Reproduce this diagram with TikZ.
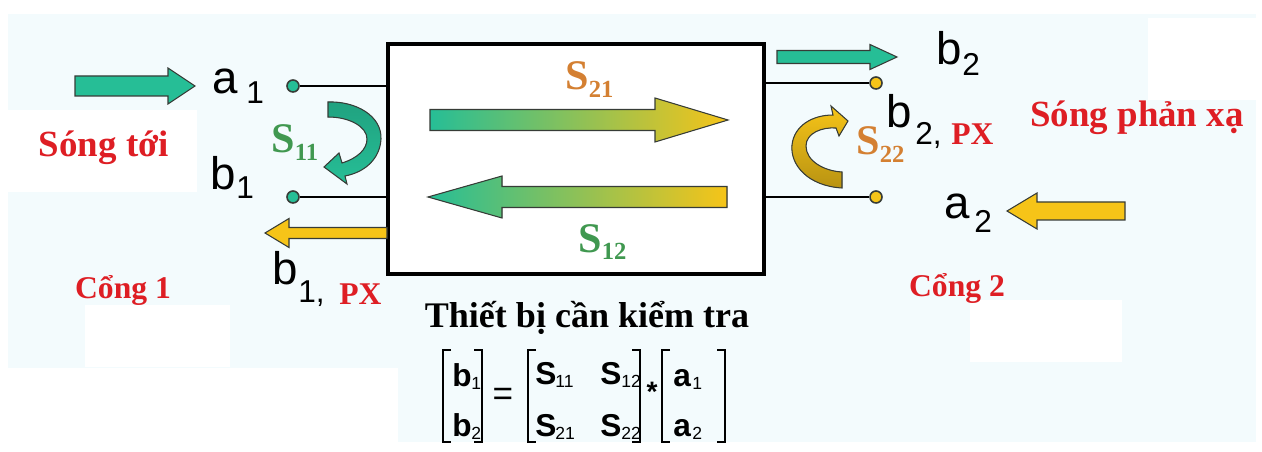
\documentclass[tikz,border=0pt]{standalone}
\usepackage{fontspec}
\setmainfont{Liberation Serif}
\setsansfont{Liberation Sans}
\definecolor{bgcyan}{RGB}{243,251,253}
\definecolor{wavegreen}{RGB}{38,190,150}
\definecolor{waveyellow}{RGB}{246,196,24}
\definecolor{labred}{RGB}{222,30,36}
\definecolor{sorange}{RGB}{212,128,50}
\definecolor{sgreen}{RGB}{64,152,80}
\definecolor{rim}{RGB}{55,60,55}

% block arrow: style, tail x, tip x, head-base x, axis y, shaft half-width, head half-width
\newcommand\blockarrow[7]{%
  \filldraw[#1] (#2,#5-#6) -- (#4,#5-#6) -- (#4,#5-#7) -- (#3,#5)
    -- (#4,#5+#7) -- (#4,#5+#6) -- (#2,#5+#6) -- cycle;}

\begin{document}
\begin{tikzpicture}[x=0.02cm,y=-0.02cm,
  lab/.style={font=\sffamily\fontsize{26}{26}\selectfont, anchor=base west, inner sep=0pt, text=black},
  sublab/.style={font=\sffamily\fontsize{18}{18}\selectfont, anchor=base west, inner sep=0pt, text=black},
  redlab/.style={font=\bfseries\fontsize{21}{21}\selectfont, text=labred, anchor=base, inner sep=0pt},
  portlab/.style={font=\bfseries\fontsize{18}{18}\selectfont, text=labred, anchor=base, inner sep=0pt},
  pxlab/.style={font=\bfseries\fontsize{18}{18}\selectfont, text=labred, anchor=base west, inner sep=0pt},
  slab/.style={font=\bfseries\fontsize{24}{24}\selectfont, anchor=base west, inner sep=0pt},
  term/.style={circle, draw=rim, line width=0.9pt, minimum size=0.24cm, inner sep=0pt},
  portline/.style={line width=1.6pt, black},
  flat/.style={draw=rim, line width=0.6pt},
  mlet/.style={font=\sffamily\bfseries\fontsize{18}{18}\selectfont, anchor=base west, inner sep=0pt},
  msub/.style={font=\sffamily\fontsize{10}{10}\selectfont, anchor=base west, inner sep=0pt},
  brk/.style={line width=1.3pt, black}
]
\useasboundingbox (0,0) rectangle (1262,452);

% background tint with lighter patches
\fill[white] (0,0) rectangle (1262,452);
\fill[bgcyan] (8,14) rectangle (1256,442);
\fill[white] (0,368) rectangle (398,452);
\fill[white] (85,305) rectangle (230,367);
\fill[white] (970,300) rectangle (1122,362);
\fill[white] (7,110) rectangle (197,192);
\fill[white] (1148,18) rectangle (1256,100);

% device under test
\node[draw, line width=2pt, fill=white, minimum width=7.52cm, minimum height=4.6cm, inner sep=0pt] (dut) at (576,159) {};

% port terminals and leads
\node[term, fill=wavegreen] (ta1) at (293,86) {};
\node[term, fill=wavegreen] (tb1) at (293,197) {};
\node[term, fill=waveyellow] (tb2) at (876,83) {};
\node[term, fill=waveyellow] (ta2) at (876,197) {};
\draw[portline] (ta1.east) -- (ta1 -| dut.west);
\draw[portline] (tb1.east) -- (tb1 -| dut.west);
\draw[portline] (tb2 -| dut.east) -- (tb2.west);
\draw[portline] (ta2 -| dut.east) -- (ta2.west);

% incident and reflected wave arrows
\blockarrow{flat, fill=wavegreen}{75}{195}{168}{86}{10}{18}
\blockarrow{flat, fill=waveyellow}{387}{265}{289}{233}{5.5}{14.5}
\blockarrow{flat, fill=wavegreen}{777}{897}{870}{57}{6.5}{12.5}
\blockarrow{flat, fill=waveyellow}{1125}{1007}{1037}{211}{9}{18}

% transmission arrows inside the device
\blockarrow{flat, left color=wavegreen, right color=waveyellow}{430}{728}{655}{120}{10.5}{22}
\blockarrow{flat, left color=wavegreen, right color=waveyellow}{727}{428}{502}{197}{10.5}{21}

% reflection arrows
\filldraw[flat, top color=wavegreen!85!black, bottom color=wavegreen]
  (328,102) .. controls (356,101) and (382,116) .. (381,139)
  .. controls (380,158) and (366,172) .. (345,176) -- (347,184) -- (324,167) -- (339,153)
  -- (342,163) .. controls (358,158) and (367,149) .. (367,139)
  .. controls (367,127) and (350,117) .. (328,117) -- cycle;
\filldraw[flat, top color=waveyellow, bottom color=waveyellow!75!black]
  (842,188) .. controls (808,186) and (790,165) .. (792,145)
  .. controls (794,126) and (812,115) .. (833,115) -- (831,106) -- (848,121) -- (839,136)
  -- (836,128) .. controls (822,127) and (806,133) .. (806,146)
  .. controls (806,161) and (824,171) .. (842,172) -- cycle;

% S-parameter labels
\node[slab, text=sorange] (s21) at (565,90) {S\raisebox{-4.5pt}{\fontsize{14}{14}\selectfont 21}};
\node[slab, text=sgreen] (s12) at (578,253) {S\raisebox{-3.5pt}{\fontsize{14}{14}\selectfont 12}};
\node[slab, text=sgreen] (s11) at (271,153) {S\raisebox{-4pt}{\fontsize{14}{14}\selectfont 11}};
\node[slab, text=sorange] (s22) at (856,155) {S\raisebox{-4pt}{\fontsize{14}{14}\selectfont 22}};

% wave labels
\node[lab] (a1l) at (212,94) {a};
\node[sublab] (a1s) at (246,104) {1};
\node[lab] (b1l) at (210,190) {b};
\node[sublab] (b1s) at (236,199) {1};
\node[lab] (b1pl) at (272,285) {b};
\node[sublab] (b1ps) at (298,303) {1,};
\node[pxlab] (b1px) at (339,305) {PX};
\node[lab] (b2l) at (936,65) {b};
\node[sublab] (b2s) at (962,76) {2};
\node[lab] (b2pl) at (886,128) {b};
\node[sublab] (b2ps) at (915,145) {2,};
\node[pxlab] (b2px) at (951,145) {PX};
\node[lab] (a2l) at (944,219) {a};
\node[sublab] (a2s) at (974,233) {2};

% captions
\node[redlab] (inc) at (104,157) {Sóng tới};
\node[redlab] (refl) at (1137,127) {Sóng phản xạ};
\node[portlab] (p1) at (123,299) {Cổng 1};
\node[portlab] (p2) at (957,297) {Cổng 2};
\node[font=\bfseries\fontsize{20.5}{20.5}\selectfont, anchor=base, inner sep=0pt] (title) at (587,328) {Thiết bị cần kiểm tra};

% scattering matrix relation
\node[mlet] (mb1) at (452,387) {b};  \node[msub] at (471,390) {1};
\node[mlet] (mb2) at (452,437) {b};  \node[msub] at (471,440) {2};
\node[mlet] (ms11) at (535,385) {S}; \node[msub] at (555,388) {11};
\node[mlet] (ms12) at (600,385) {S}; \node[msub] at (621,388) {12};
\node[mlet] (ms21) at (535,437) {S}; \node[msub] at (555,440) {21};
\node[mlet] (ms22) at (600,437) {S}; \node[msub] at (621,440) {22};
\node[mlet] (ma1) at (673,387) {a};  \node[msub] at (692,390) {1};
\node[mlet] (ma2) at (673,437) {a};  \node[msub] at (692,440) {2};
\node[font=\sffamily\fontsize{20}{20}\selectfont, inner sep=0pt] (meq) at (503,397) {=};
\node[font=\sffamily\bfseries\fontsize{16}{16}\selectfont, inner sep=0pt] (mstar) at (652,392) {*};
\draw[brk] (451,350) -- (443,350) -- (443,442) -- (451,442);
\draw[brk] (474,350) -- (482,350) -- (482,442) -- (474,442);
\draw[brk] (536,350) -- (528,350) -- (528,442) -- (536,442);
\draw[brk] (632,350) -- (640,350) -- (640,442) -- (632,442);
\draw[brk] (670,350) -- (662,350) -- (662,442) -- (670,442);
\draw[brk] (717,350) -- (725,350) -- (725,442) -- (717,442);
\end{tikzpicture}
\end{document}
